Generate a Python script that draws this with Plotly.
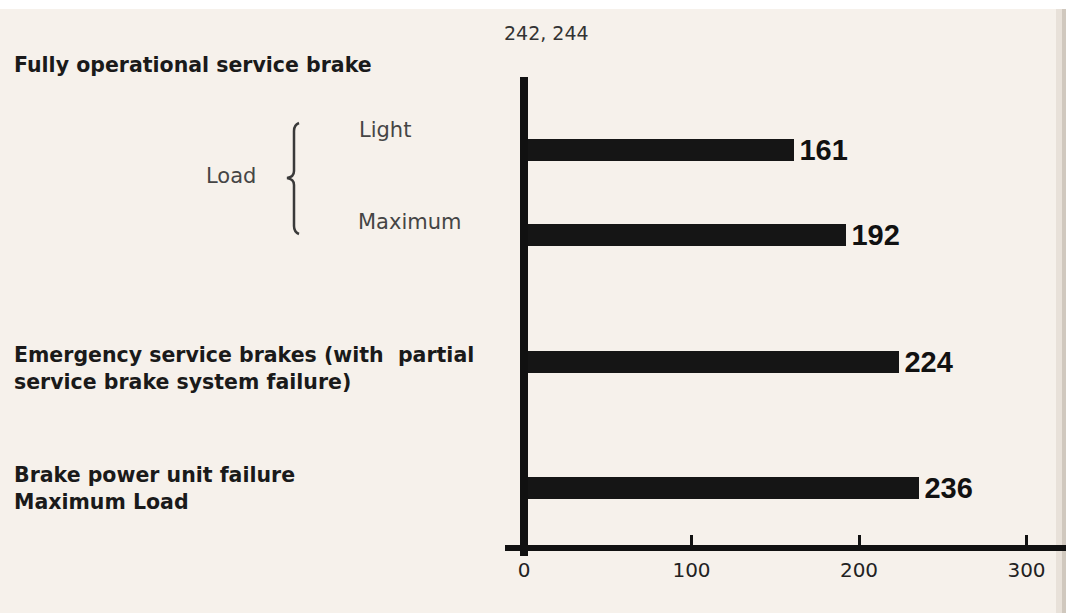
import plotly.graph_objects as go

# Stopping distances (ft) for each braking condition
conditions = [
    "Fully operational service brake, light load",
    "Fully operational service brake, maximum load",
    "Emergency service brakes (partial service brake system failure)",
    "Brake power unit failure, maximum load",
]
distances = [161, 192, 224, 236]
x_ticks = [0, 100, 200, 300]
header_note = "242, 244"

W, H = 1066, 613
BG = "#f6f1eb"

# Row centres on the y scale (measured upward from the x axis, in px units)
ROW_Y = [395, 310, 183, 57]
Y_TOP = 468
PLOT_BOTTOM_PX = 545
PLOT_TOP_PX = PLOT_BOTTOM_PX - Y_TOP
PLOT_LEFT_PX = 505
ZERO_PX = 524
PX_PER_UNIT = 1.675


def px(x):
    return x / W


def py(y):
    return 1 - y / H


x_min = (PLOT_LEFT_PX - ZERO_PX) / PX_PER_UNIT
x_max = (W - ZERO_PX) / PX_PER_UNIT

fig = go.Figure()
fig.add_trace(
    go.Bar(
        x=distances,
        y=ROW_Y,
        orientation="h",
        width=22,
        marker=dict(color="#151515", line=dict(width=0)),
        text=[str(v) for v in distances],
        texttemplate="\u200a%{text}",
        textposition="outside",
        textfont=dict(family="Liberation Sans", size=29, color="#111111", weight="bold"),
        cliponaxis=False,
        constraintext="none",
        hovertext=conditions,
        hoverinfo="text+x",
        showlegend=False,
    )
)

shapes = []
# page edge / gutter shading on the right
shapes.append(dict(type="rect", xref="paper", yref="paper", x0=px(1056), x1=1, y0=0, y1=1,
                   fillcolor="#d9d2c8", opacity=0.5, line=dict(width=0), layer="below"))
shapes.append(dict(type="rect", xref="paper", yref="paper", x0=px(1062), x1=1, y0=0, y1=1,
                   fillcolor="#b8afa4", opacity=0.5, line=dict(width=0), layer="below"))
# white strip along the top edge
shapes.append(dict(type="rect", xref="paper", yref="paper", x0=0, x1=1, y0=py(9), y1=1,
                   fillcolor="#ffffff", line=dict(width=0), layer="below"))
# vertical axis at x = 0, running just past the x axis
shapes.append(dict(type="line", xref="x", yref="paper", x0=0, x1=0,
                   y0=py(556), y1=py(PLOT_TOP_PX),
                   line=dict(color="#111111", width=8)))

# brace grouping the two load cases
bx, mx = 294, 287
pts = [
    (299, 123), (bx, 125), (bx, 131), (bx, 171), (bx, 177), (mx, 178),
    (bx, 179), (bx, 185), (bx, 226), (bx, 232), (299, 234),
]
p = [f"{px(a):.5f},{py(b):.5f}" for a, b in pts]
brace = (f"M {p[0]} Q {p[1]} {p[2]} L {p[3]} Q {p[4]} {p[5]} "
         f"Q {p[6]} {p[7]} L {p[8]} Q {p[9]} {p[10]}")
shapes.append(dict(type="path", xref="paper", yref="paper", path=brace,
                   line=dict(color="#3a3a3a", width=2.5)))

BOLD = dict(family="DejaVu Sans", size=20.5, color="#1a1a1a")
REG = dict(family="DejaVu Sans", size=21, color="#454545")

annotations = []


def label(text, x, y, font, **kw):
    annotations.append(dict(text=text, xref="paper", yref="paper", x=px(x), y=py(y),
                            xanchor="left", yanchor="middle", showarrow=False,
                            align="left", font=font, **kw))


label("<b>Fully operational service brake</b>", 12, 65, BOLD)
label("Light", 357, 130, REG)
label("Load", 204, 176, REG)
label("Maximum", 356, 222, REG)
label("<b>Emergency service brakes (with\u00a0 partial<br>service brake system failure)</b>",
      12, 368, BOLD)
label("<b>Brake power unit failure<br>Maximum Load</b>", 12, 488, BOLD)
label(header_note, 502, 33, dict(family="DejaVu Sans", size=19, color="#333333"))

fig.update_layout(
    width=W,
    height=H,
    margin=dict(l=0, r=0, t=0, b=0),
    paper_bgcolor=BG,
    plot_bgcolor="rgba(0,0,0,0)",
    shapes=shapes,
    annotations=annotations,
    bargap=0,
    xaxis=dict(
        domain=[px(PLOT_LEFT_PX), 1],
        range=[x_min, x_max],
        showgrid=False,
        zeroline=False,
        showline=True,
        linecolor="#111111",
        linewidth=6,
        ticks="inside",
        ticklen=10,
        tickwidth=3,
        tickcolor="#111111",
        tickvals=x_ticks,
        ticktext=[str(t) for t in x_ticks],
        tickfont=dict(family="DejaVu Sans", size=20, color="#222222"),
        ticklabelstandoff=2,
        fixedrange=True,
    ),
    yaxis=dict(
        domain=[1 - PLOT_BOTTOM_PX / H, 1 - PLOT_TOP_PX / H],
        range=[0, Y_TOP],
        showgrid=False,
        zeroline=False,
        showline=False,
        showticklabels=False,
        ticks="",
        fixedrange=True,
    ),
)

fig.write_html("out.html")
